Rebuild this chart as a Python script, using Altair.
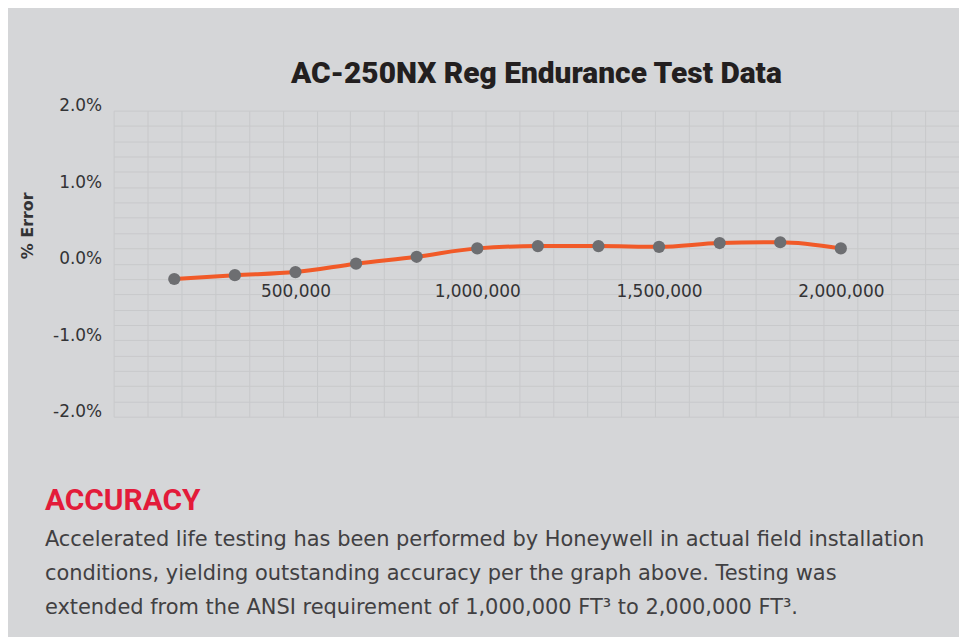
import altair as alt
import pandas as pd

# ---- data ----
test_volume = [166667, 333333, 500000, 666667, 833333, 1000000,
               1166667, 1333333, 1500000, 1666667, 1833333, 2000000]
pct_error = [-0.20, -0.15, -0.11, 0.00, 0.09, 0.20,
             0.23, 0.23, 0.22, 0.27, 0.28, 0.20]
x_label_values = [500000, 1000000, 1500000, 2000000]
x_domain = [0, 2325000]
y_domain = [-2.0, 2.0]
y_grid_values = [-2.0, -1.8, -1.6, -1.4, -1.2, -1.0, -0.8, -0.6, -0.4, -0.2, 0.0,
                 0.2, 0.4, 0.6, 0.8, 1.0, 1.2, 1.4, 1.6, 1.8, 2.0]
x_grid_values = list(range(26))

title_text = "AC-250NX Reg Endurance Test Data"
y_title = "% Error"
caption_head = "ACCURACY"
caption_lines = [
    "Accelerated life testing has been performed by Honeywell in actual field installation",
    "conditions, yielding outstanding accuracy per the graph above. Testing was",
    "extended from the ANSI requirement of 1,000,000 FT\u00b3 to 2,000,000 FT\u00b3.",
]

BG = "#d5d6d8"
GRID = "#c8c9cb"
TEXT = "#333335"
LINE = "#f15a28"
DOT = "#6d6e71"
W, H = 848, 307
AXIS_FONT = "DejaVu Sans"

df = pd.DataFrame({"vol": test_volume, "err": pct_error})
grid_df = pd.DataFrame({"g": [x_grid_values[0], x_grid_values[-1]], "y": y_domain})
one = pd.DataFrame({"a": [0]})

y_scale = alt.Scale(domain=y_domain, nice=False, zero=False)
y_axis = alt.Axis(
    values=y_grid_values,
    labelExpr="abs(datum.value - round(datum.value)) < 0.01 ? replace(format(datum.value, '.1f'), '\u2212', '-') + '%' : ''",
    grid=True, gridColor=GRID, gridWidth=1,
    ticks=False, domain=False,
    labelFontSize=17, labelColor=TEXT, labelFont=AXIS_FONT,
    labelPadding=12, labelOffset=-5,
    title=y_title, titleFontSize=16, titleFontWeight="bold", titleColor=TEXT,
    titleFont=AXIS_FONT, titleX=-86, titleY=115,
    titleAlign="center", titleBaseline="middle", titleAngle=270,
)

grid_layer = alt.Chart(grid_df).mark_point(opacity=0).encode(
    x=alt.X("g:Q", scale=alt.Scale(domain=[x_grid_values[0], x_grid_values[-1]], nice=False, zero=False),
            axis=alt.Axis(values=x_grid_values, grid=True, gridColor=GRID, gridWidth=1, orient="bottom",
                          labels=False, ticks=False, domain=False, title=None)),
    y=alt.Y("y:Q", scale=y_scale, axis=y_axis),
)

x_enc = alt.X("vol:Q", scale=alt.Scale(domain=x_domain, nice=False, zero=False),
              axis=alt.Axis(values=x_label_values, orient="bottom",
                            labelExpr="format(datum.value, ',')",
                            grid=False, ticks=False,
                            domain=False, offset=-153.5, labelBaseline="middle",
                            labelPadding=28, labelFontSize=17, labelColor=TEXT,
                            labelFont=AXIS_FONT, title=None))
y_enc = alt.Y("err:Q", scale=y_scale, axis=y_axis)

line = alt.Chart(df).mark_line(color=LINE, strokeWidth=4, interpolate="monotone").encode(x=x_enc, y=y_enc)
dots = alt.Chart(df).mark_circle(color=DOT, size=150, opacity=1).encode(x=x_enc, y=y_enc)
data_layer = alt.layer(line, dots)

head = alt.Chart(one).mark_text(
    text=caption_head, align="left", baseline="alphabetic", font="Roboto",
    fontWeight="bold", fontSize=30, color="#e31b3a",
).encode(x=alt.value(-69), y=alt.value(401))

body = alt.Chart(one).mark_text(
    text=caption_lines, align="left", baseline="alphabetic", font="DejaVu Sans",
    fontWeight=400, fontSize=21, lineHeight=34, color="#414042",
).encode(x=alt.value(-69), y=alt.value(437))

chart = alt.layer(grid_layer, data_layer, head, body).resolve_scale(x="independent").properties(
    width=W, height=H,
    title=alt.Title(title_text, fontSize=30, font="Roboto", fontWeight=900, color="#231f20",
                    anchor="middle", baseline="alphabetic", offset=-16),
    background=BG,
    padding={"left": 106, "top": 102, "right": 0, "bottom": 220},
    autosize=alt.AutoSizeParams(type="none"),
).configure_view(stroke=None)

chart.save("out.html", embed_options={"renderer": "svg", "actions": False})
